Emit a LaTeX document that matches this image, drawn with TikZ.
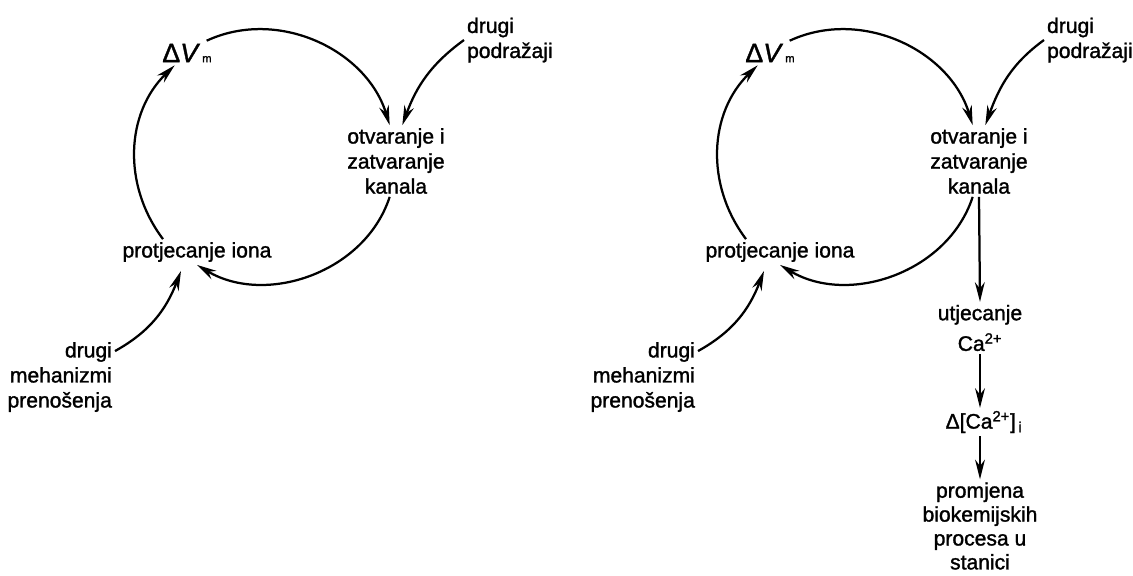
\documentclass[tikz,border=0pt]{standalone}
\usepackage{fontspec}
\setmainfont[FakeBold=1.4]{Liberation Sans}
\usetikzlibrary{arrows.meta,positioning}

\newcommand{\dvm}{{\fontsize{19}{19}\selectfont Δ\textit{V}}\kern1.5pt{\fontsize{8}{8}\selectfont m}}

\begin{document}
\begin{tikzpicture}[x=0.025cm, y=0.025cm,
  every node/.style={font=\fontsize{15}{17.8}\selectfont, inner sep=2pt},
  flow/.style={-{Stealth[length=14pt,width=7pt]}, line width=1.6pt},
  txt/.style={align=center}]
  \useasboundingbox (0,0) rectangle (1133,-575);

  % left cycle
  \node (dvmL) at (187,-53) {\dvm};
  \node[txt] (otvL) at (396,-161) {otvaranje i\\zatvaranje\\kanala};
  \node (protL) at (197,-252) {protjecanje iona};
  \node[align=right, anchor=east] (mehL) at (115,-377) {drugi\\mehanizmi\\prenošenja};
  \node[align=left, anchor=west] (podL) at (464,-40) {drugi\\podražaji};

  \draw[flow] (dvmL.32) to[out=25, in=107] (otvL.100);
  \draw[flow] (otvL.-100) to[out=-108, in=-31] (protL.south);
  \draw[flow] ([xshift=-0.85cm]protL.north) to[out=127, in=-136] (dvmL.-135);
  \draw[flow] ([yshift=-0.3cm]mehL.north east) to[out=29, in=-111] ([xshift=-0.4cm,yshift=-0.15cm]protL.south);
  \draw[flow] (podL.west) to[out=216, in=70] (otvL.80);

  % right cycle
  \node (dvmR) at (770,-53) {\dvm};
  \node[txt] (otvR) at (979,-161) {otvaranje i\\zatvaranje\\kanala};
  \node (protR) at (780,-252) {protjecanje iona};
  \node[align=right, anchor=east] (mehR) at (698,-377) {drugi\\mehanizmi\\prenošenja};
  \node[align=left, anchor=west] (podR) at (1044,-40) {drugi\\podražaji};

  \draw[flow] (dvmR.32) to[out=25, in=107] (otvR.100);
  \draw[flow] (otvR.-100) to[out=-108, in=-31] (protR.south);
  \draw[flow] ([xshift=-0.85cm]protR.north) to[out=127, in=-136] (dvmR.-135);
  \draw[flow] ([yshift=-0.3cm]mehR.north east) to[out=29, in=-111] ([xshift=-0.4cm,yshift=-0.15cm]protR.south);
  \draw[flow] (podR.west) to[out=216, in=70] (otvR.80);

  % calcium chain
  \node[txt] (utjR) at (980,-328) {utjecanje\\[4pt]Ca\textsuperscript{2+}};
  \node (dcaR) at (984,-422) {Δ[Ca\textsuperscript{2+}]\textsubscript{\,i}};
  \node[txt, font=\fontsize{15}{17}\selectfont] (proR) at (980,-526) {promjena\\biokemijskih\\procesa u\\stanici};

  \draw[flow] (otvR.south) -- (utjR.north);
  \draw[flow] (utjR.south) -- (utjR.south |- dcaR.north);
  \draw[flow] (utjR.south |- dcaR.south) -- (utjR.south |- proR.north);
\end{tikzpicture}
\end{document}
